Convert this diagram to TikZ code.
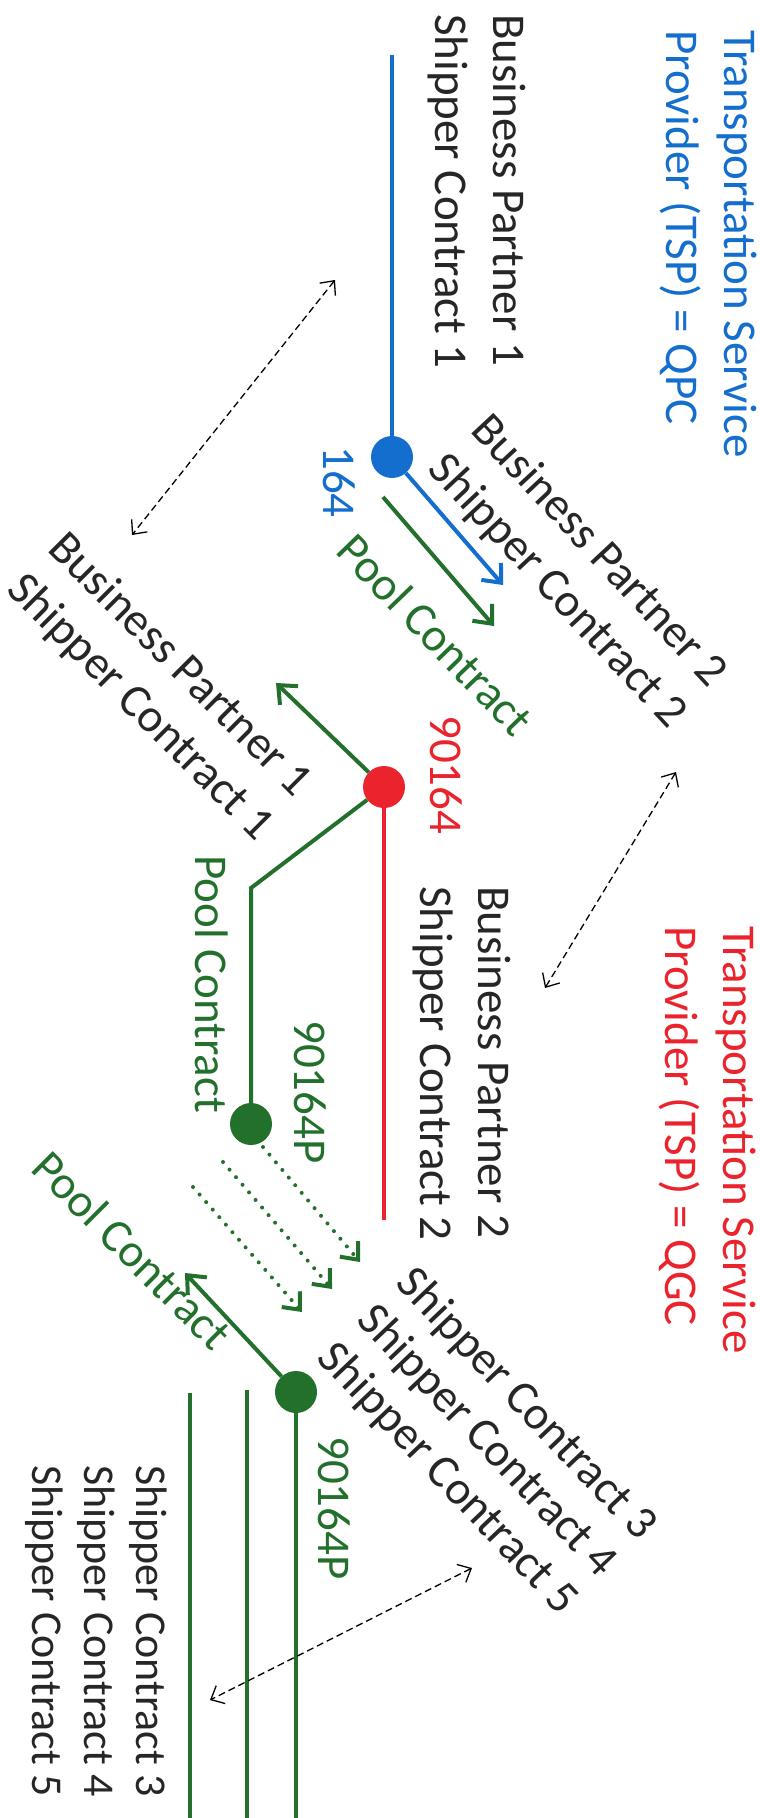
\documentclass[tikz,border=0pt]{standalone}
\usepackage{fontspec}
\setmainfont{Carlito}
\usetikzlibrary{arrows.meta}
\definecolor{qpcblue}{RGB}{20,110,205}
\definecolor{qgcred}{RGB}{235,35,45}
\definecolor{poolgreen}{RGB}{35,112,45}
\begin{document}
\begin{tikzpicture}[x=1pt, y=-1pt,
	lbl/.style={font=\fontsize{47}{58}\selectfont, inner sep=0pt, align=left, text=black!85},
	tight/.style={font=\fontsize{47}{54}\selectfont},
	small/.style={font=\fontsize{44}{52}\selectfont},
	vlbl/.style={lbl, rotate=-90, anchor=north west},
	dlbl/.style={lbl, rotate=-45, anchor=north west},
	tspdot/.style={circle, inner sep=0pt, minimum size=42pt},
	barb/.style={-{Straight Barb[length=15pt,width=26pt]}},
	link/.style={dashed, line width=1.3pt, dash pattern=on 7pt off 4pt, {Straight Barb[length=11pt,width=20pt]}-{Straight Barb[length=11pt,width=20pt]}},
	pooled/.style={poolgreen, line width=4pt, line cap=round, dash pattern=on 0pt off 10pt, -{Straight Barb[length=14pt,width=24pt]}}]
	\useasboundingbox (0,0) rectangle (760,1818);
	% QPC side
	\node[vlbl, text=qpcblue] (qpc) at (757,30) {Transportation Service\\Provider (TSP) = QPC};
	\node[vlbl] (bp1) at (526,14) {Business Partner 1\\Shipper Contract 1};
	\node[tspdot, fill=qpcblue] (c164) at (392,457) {};
	\node[vlbl, text=qpcblue] (n164) at (355,446) {164};
	\node[dlbl, rotate=-2] (bp2) at (493,409) {Business Partner 2\\Shipper Contract 2};
	\node[lbl, rotate=-46, anchor=north west, text=poolgreen] (pool1) at (358,530) {Pool Contract};
	\coordinate (qpctop) at (392,55);
	\coordinate (bp2tip) at (503,585);
	\coordinate (pool1a) at (383,497);
	\coordinate (pool1b) at (494,626);
	\draw[qpcblue, line width=4.5pt] (qpctop) -- (c164);
	\draw[qpcblue, line width=4pt, barb] (c164) -- (bp2tip);
	\draw[poolgreen, line width=4pt, barb] (pool1a) -- (pool1b);
	% QGC side
	\node[vlbl, text=qgcred] (qgc) at (756,926) {Transportation Service\\Provider (TSP) = QGC};
	\node[vlbl] (bp2b) at (511,886) {Business Partner 2\\Shipper Contract 2};
	\node[tspdot, fill=qgcred] (c90164) at (384,787) {};
	\node[vlbl, text=qgcred] (n90164) at (462,715) {90164};
	\node[dlbl] (bp1b) at (69,527) {Business Partner 1\\Shipper Contract 1};
	\coordinate (bp1tip) at (276,683);
	\coordinate (qgcend) at (384,1220);
	\coordinate (bend) at (251,888);
	\draw[qgcred, line width=3.5pt] (c90164) -- (qgcend);
	\draw[poolgreen, line width=4pt, barb] (c90164) -- (bp1tip);
	% pool 90164P
	\node[tspdot, fill=poolgreen] (p1) at (251,1124) {};
	\node[vlbl, text=poolgreen] (pool2) at (228,855) {Pool Contract};
	\node[vlbl, text=poolgreen] (n90164p) at (326,1020) {90164P};
	\draw[poolgreen, line width=4pt] (c90164) -- (bend) -- (p1);
	\coordinate (d1a) at (263,1147);
	\coordinate (d1b) at (360,1262);
	\coordinate (d2a) at (223,1162);
	\coordinate (d2b) at (332,1289);
	\coordinate (d3a) at (193,1187);
	\coordinate (d3b) at (302,1312);
	\draw[pooled] (d1a) -- (d1b);
	\draw[pooled] (d2a) -- (d2b);
	\draw[pooled] (d3a) -- (d3b);
	\node[dlbl, rotate=-1.5, tight] (sc345) at (418,1262) {Shipper Contract 3\\Shipper Contract 4\\Shipper Contract 5};
	% pool 90164P, shipper contracts
	\node[tspdot, fill=poolgreen] (p2) at (296,1392) {};
	\node[dlbl, text=poolgreen] (pool3) at (53,1147) {Pool Contract};
	\node[vlbl, text=poolgreen] (n90164pb) at (350,1436) {90164P};
	\node[vlbl, small] (sc345b) at (167,1465) {Shipper Contract 3\\Shipper Contract 4\\Shipper Contract 5};
	\coordinate (pooltip) at (185,1273);
	\coordinate (sc3end) at (296,1818);
	\coordinate (sc4top) at (247,1390);
	\coordinate (sc4end) at (247,1818);
	\coordinate (sc5top) at (190,1393);
	\coordinate (sc5end) at (190,1818);
	\draw[poolgreen, line width=4pt, barb] (p2) -- (pooltip);
	\draw[poolgreen, line width=4pt] (p2) -- (sc3end);
	\draw[poolgreen, line width=4pt] (sc4top) -- (sc4end);
	\draw[poolgreen, line width=4pt] (sc5top) -- (sc5end);
	% links between both sides
	\coordinate (la) at (335,280);
	\coordinate (lb) at (132,535);
	\coordinate (lc) at (676,772);
	\coordinate (ld) at (545,988);
	\coordinate (le) at (472,1568);
	\coordinate (lf) at (210,1700);
	\draw[link] (la) -- (lb);
	\draw[link] (lc) -- (ld);
	\draw[link] (le) -- (lf);
\end{tikzpicture}
\end{document}
